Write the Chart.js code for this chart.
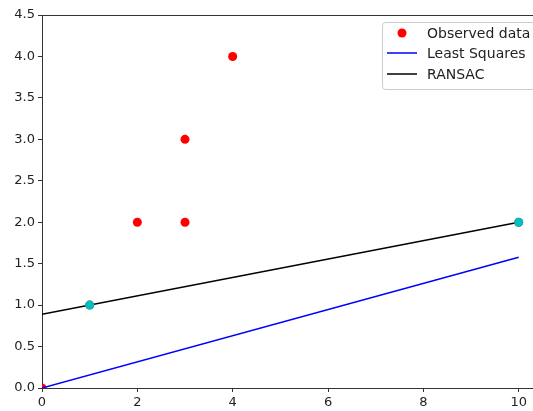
<!DOCTYPE html>
<html>
<head>
<meta charset="utf-8">
<script src="https://cdn.jsdelivr.net/npm/chart.js@4/dist/chart.umd.min.js"></script>
<style>
  html, body { margin: 0; padding: 0; background: #fff; }
  #wrap { width: 533px; height: 411px; }
</style>
</head>
<body>
<div id="wrap"><canvas id="ransacChart" width="533" height="411"></canvas></div>
<script>
// data
const obsX = [0, 1, 2, 3, 3, 4, 10];
const obsY = [0, 1, 2, 2, 3, 4, 2];
const inlierX = [1, 10];
const inlierY = [1, 2];
const lineX = [0, 10];
const lsqY = [0, 1.577];
const ransacY = [0.889, 2.0];
const xTicks = [0, 2, 4, 6, 8, 10];
const yTicks = [0, 0.5, 1, 1.5, 2, 2.5, 3, 3.5, 4, 4.5];
const legendNames = ["Observed data", "Least Squares", "RANSAC"];

const toPts = (xs, ys) => xs.map((x, i) => ({ x: x, y: ys[i] }));

const FONT = "DejaVu Sans";

// top spine + matplotlib style legend
const extras = {
    id: "extras",
    afterDraw(chart) {
        const ctx = chart.ctx;
        const a = chart.chartArea;
        ctx.save();
        ctx.strokeStyle = "#333";
        ctx.lineWidth = 1;
        ctx.beginPath();
        ctx.moveTo(a.left, a.top + 0.5);
        ctx.lineTo(a.right, a.top + 0.5);
        ctx.stroke();

        // legend box
        const bx = 382, by = 22, bw = 170, bh = 67;
        ctx.fillStyle = "rgba(255,255,255,0.8)";
        ctx.strokeStyle = "#cccccc";
        ctx.beginPath();
        ctx.roundRect(bx + 0.5, by + 0.5, bw, bh, 3);
        ctx.fill();
        ctx.stroke();

        const rows = [33, 53, 74];
        ctx.font = "14px '" + FONT + "'";
        ctx.textBaseline = "middle";
        // marker
        ctx.fillStyle = "#ff0000";
        ctx.beginPath();
        ctx.arc(402, rows[0], 4.5, 0, Math.PI * 2);
        ctx.fill();
        // lines
        ctx.lineWidth = 1.5;
        ctx.strokeStyle = "#0000ff";
        ctx.beginPath(); ctx.moveTo(387, rows[1]); ctx.lineTo(417, rows[1]); ctx.stroke();
        ctx.strokeStyle = "#000000";
        ctx.beginPath(); ctx.moveTo(387, rows[2]); ctx.lineTo(417, rows[2]); ctx.stroke();
        ctx.fillStyle = "#222";
        legendNames.forEach((t, i) => ctx.fillText(t, 427, rows[i] + 1));
        ctx.restore();
    }
};

new Chart(document.getElementById("ransacChart"), {
    type: "scatter",
    data: {
        datasets: [
            {
                label: "inliers",
                data: toPts(inlierX, inlierY),
                backgroundColor: "#00bfbf",
                borderWidth: 0,
                pointRadius: 4.5,
                order: 0
            },
            {
                label: legendNames[2],
                data: toPts(lineX, ransacY),
                showLine: true,
                borderColor: "#000000",
                borderWidth: 1.5,
                pointRadius: 0,
                order: 1
            },
            {
                label: legendNames[1],
                data: toPts(lineX, lsqY),
                showLine: true,
                borderColor: "#0000ff",
                borderWidth: 1.5,
                pointRadius: 0,
                order: 2
            },
            {
                label: legendNames[0],
                data: toPts(obsX, obsY),
                backgroundColor: "#ff0000",
                borderWidth: 0,
                pointRadius: 4.5,
                order: 3
            }
        ]
    },
    options: {
        responsive: false,
        animation: false,
        layout: { autoPadding: false, padding: { top: 15, right: 0, left: 0, bottom: 0 } },
        plugins: {
            legend: { display: false },
            tooltip: { enabled: false }
        },
        scales: {
            x: {
                type: "linear",
                min: 0,
                max: 10.3,
                afterBuildTicks: s => { s.ticks = xTicks.map(v => ({ value: v })); },
                afterFit: s => { s.height = 23; s.paddingRight = 0; s.paddingLeft = 0; },
                ticks: {
                    includeBounds: false,
                    color: "#222",
                    padding: 3,
                    font: { family: FONT, size: 13 },
                    maxRotation: 0
                },
                grid: { drawOnChartArea: false, drawTicks: true, tickLength: 4, color: "#333" },
                border: { display: true, color: "#333", width: 1 }
            },
            y: {
                type: "linear",
                min: 0,
                max: 4.5,
                afterBuildTicks: s => { s.ticks = yTicks.map(v => ({ value: v })); },
                afterFit: s => { s.width = 42; s.paddingTop = 0; s.paddingBottom = 0; },
                ticks: {
                    color: "#222",
                    padding: 3,
                    font: { family: FONT, size: 13 },
                    callback: v => v.toFixed(1)
                },
                grid: { drawOnChartArea: false, drawTicks: true, tickLength: 4, color: "#333" },
                border: { display: true, color: "#333", width: 1 }
            }
        }
    },
    plugins: [extras]
});
</script>
</body>
</html>
